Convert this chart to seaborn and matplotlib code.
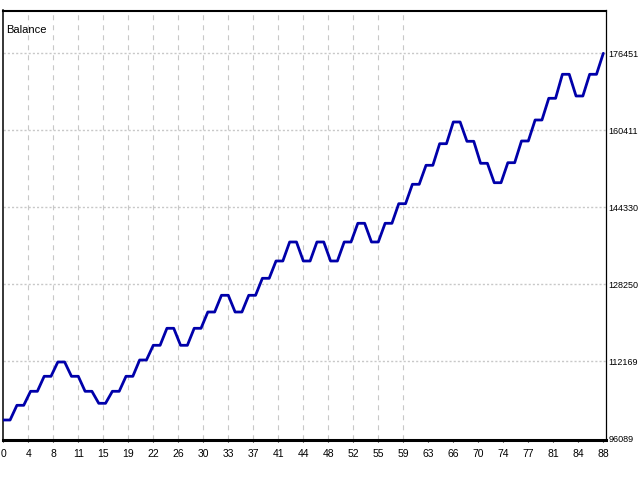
import numpy as np
import pandas as pd
import matplotlib
matplotlib.use("Agg")
import matplotlib.pyplot as plt
import seaborn as sns

# balance levels, each one held for two trades
levels = [99849, 102920, 105845, 108978, 111965, 108978, 105845, 103338,
          105845, 108978, 112383, 115454, 119005, 115454, 119005, 122410,
          125899, 122410, 125899, 129450, 133064, 137033, 133064, 137033,
          133064, 137033, 140940, 137033, 140940, 145035, 149087, 153056,
          157568, 162101, 158070, 153474, 149421, 153599, 158132, 162519,
          167052, 172066, 167533, 172066]
final_balance = 176451

y_labels = [96089, 112169, 128250, 144330, 160411, 176451]
x_labels = [0, 4, 8, 11, 15, 19, 22, 26, 30, 33, 37, 41, 44, 48, 52, 55,
            59, 63, 66, 70, 74, 77, 81, 84, 88]

balance = np.append(np.repeat(levels, 2), final_balance)
df = pd.DataFrame({"trade": np.arange(len(balance)), "balance": balance})

sns.set_theme(style="white")
plt.rcParams["font.family"] = ["Liberation Sans", "DejaVu Sans"]
plt.rcParams["lines.scale_dashes"] = False

fig = plt.figure(figsize=(6.4, 4.8), dpi=100)
ax = fig.add_axes([3 / 640, 40.5 / 480, 602.7 / 640, 429 / 480])

x_pos = np.linspace(0, df["trade"].iloc[-1], len(x_labels))

# grid: dotted horizontals at the labelled levels, dashed verticals (only up to 59)
ax.hlines(y_labels[1:], -1, 90, colors="#c8c8c8", linewidth=1.0,
          linestyles=(0, (1.5, 1.5)), zorder=1)
ax.vlines([p for p, l in zip(x_pos, x_labels) if 0 < l <= 59], 90000, 190000,
          colors="#c8c8c8", linewidth=0.8, linestyles=(2, (3.6, 3.6)), zorder=1)

sns.lineplot(data=df, x="trade", y="balance", ax=ax, color="#0000aa",
             linewidth=2.0, estimator=None, zorder=3)

ax.set_xlim(-0.04, 88.35)
ax.set_ylim(95776, 185392)

ax.set_xticks(x_pos)
ax.set_xticklabels([str(v) for v in x_labels], fontsize=7.5)
ax.set_yticks(y_labels)
ax.set_yticklabels([str(v) for v in y_labels], fontsize=6.5)
ax.yaxis.tick_right()
ax.tick_params(axis="y", length=0, pad=2, colors="black")
ax.tick_params(axis="x", direction="out", length=1.5, width=0.8, pad=5.5,
               colors="black", bottom=True)
ax.set_xlabel("")
ax.set_ylabel("")

for side, lw in [("top", 1.5), ("left", 1.1), ("right", 0.9), ("bottom", 2.2)]:
    ax.spines[side].set_visible(True)
    ax.spines[side].set_color("black")
    ax.spines[side].set_linewidth(lw)

ax.text(0.005, 0.9545, "Balance", transform=ax.transAxes, fontsize=8,
        ha="left", va="center", color="black")

fig.savefig("out.png", dpi=100)
